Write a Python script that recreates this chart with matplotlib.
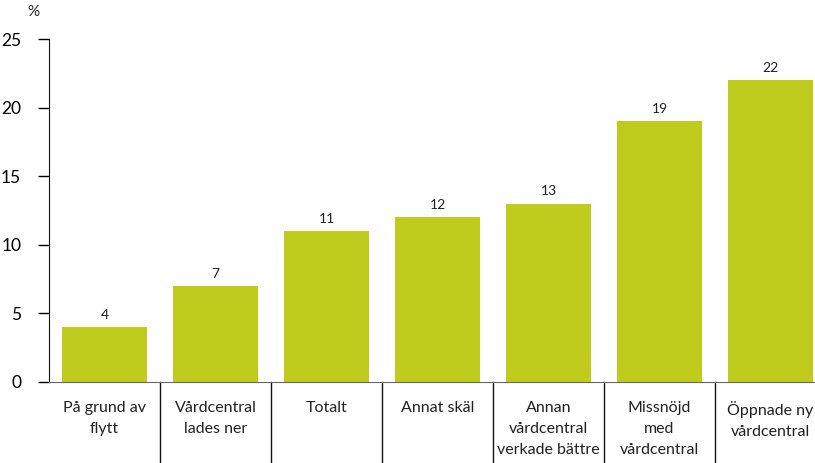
import matplotlib.pyplot as plt
import matplotlib.transforms as mtransforms

plt.rcParams['font.family'] = ['Lato', 'DejaVu Sans']

categories = ['På grund av\nflytt', 'Vårdcentral\nlades ner', 'Totalt', 'Annat skäl',
              'Annan\nvårdcentral\nverkade bättre', 'Missnöjd\nmed\nvårdcentral',
              'Öppnade ny\nvårdcentral']
values = [4, 7, 11, 12, 13, 19, 22]
yticks = [0, 5, 10, 15, 20, 25]

bar_color = '#bfcc1d'

fig = plt.figure(figsize=(8.15, 4.63), dpi=100)
ax = fig.add_axes([49 / 815, 81 / 463, 777 / 815, 343 / 463])

x = list(range(len(categories)))
ax.bar(x, values, width=0.77, color=bar_color, zorder=2)
for xi, v in zip(x, values):
    ax.text(xi, v + 0.45, f'{v}', ha='center', va='bottom', fontsize=10, color='#222222')

ax.set_xlim(-0.5, len(categories) - 0.5)
ax.set_ylim(0, 25)
ax.set_yticks(yticks)
ax.set_yticklabels([str(t) for t in yticks], fontsize=12.5)
ax.tick_params(axis='y', length=8, width=1, pad=12, direction='out')
ax.set_xticks([])

for side in ['top', 'right']:
    ax.spines[side].set_visible(False)
ax.spines['left'].set_color('#111111')
ax.spines['bottom'].set_color('#666666')
ax.spines['bottom'].set_bounds(-0.5, len(categories) - 0.5)

# separators between categories, running down below the axis
trans = mtransforms.blended_transform_factory(ax.transData, ax.transAxes)
for b in [i + 0.5 for i in range(len(categories) - 1)]:
    ax.plot([b, b], [0, -0.3], transform=trans, color='#111111', lw=1, clip_on=False)

# category labels under the axis
for xi, label in zip(x, categories):
    ax.text(xi, -0.055, label, transform=trans, ha='center', va='top',
            fontsize=11.5, color='#222222', linespacing=1.65)

fig.text(33 / 815, 1 - 12 / 463, '%', ha='center', va='center', fontsize=11, color='#222222')

fig.savefig('out.png', dpi=100)
